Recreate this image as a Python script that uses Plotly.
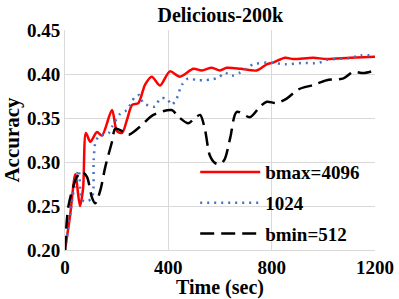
import plotly.graph_objects as go

# bmax=4096 (red)
red_t = [0, 20, 40, 58, 70, 81, 98, 124, 143, 182, 201, 221, 240, 260, 284, 310, 336, 368, 406, 445,
         497, 529, 568, 600, 626, 680, 742, 781, 806, 852, 884, 961, 1013, 1103, 1200]
red_v = [0.200, 0.240, 0.286, 0.250, 0.270, 0.333, 0.323, 0.334, 0.330, 0.359, 0.335, 0.333, 0.348, 0.365,
         0.367, 0.388, 0.397, 0.387, 0.403, 0.397, 0.406, 0.404, 0.407, 0.404, 0.407, 0.406, 0.404, 0.411,
         0.413, 0.4185, 0.417, 0.4185, 0.417, 0.4185, 0.4197]

# 1024 (blue dotted)
blue_t = [0, 20, 34, 53, 66, 85, 105, 111, 117, 130, 150, 169, 182, 214, 239, 271, 288, 303, 348, 368,
          394, 413, 432, 452, 477, 510, 535, 568, 594, 619, 645, 677, 729, 787, 852, 916, 981, 1013, 1103,
          1142, 1200]
blue_v = [0.200, 0.240, 0.268, 0.291, 0.257, 0.255, 0.260, 0.302, 0.321, 0.329, 0.331, 0.333, 0.340, 0.355,
          0.359, 0.374, 0.376, 0.367, 0.363, 0.372, 0.372, 0.365, 0.372, 0.3875, 0.395, 0.393, 0.393, 0.394,
          0.396, 0.4015, 0.398, 0.4015, 0.411, 0.413, 0.411, 0.4125, 0.4125, 0.416, 0.418, 0.421, 0.421]

# bmin=512 (black dashed)
black_t = [0, 14, 46, 66, 85, 105, 117, 137, 156, 182, 195, 227, 247, 290, 342, 413, 439, 477, 503, 523,
           542, 560, 580, 600, 618, 640, 665, 716, 755, 781, 819, 858, 903, 961, 1013, 1078, 1116, 1155, 1200]
black_v = [0.200, 0.251, 0.283, 0.289, 0.283, 0.259, 0.253, 0.268, 0.2945, 0.323, 0.338, 0.334, 0.331,
           0.340, 0.3535, 0.359, 0.3515, 0.344, 0.350, 0.3535, 0.3365, 0.308, 0.299, 0.2975, 0.303, 0.328,
           0.357, 0.351, 0.363, 0.3685, 0.367, 0.372, 0.3825, 0.3875, 0.393, 0.395, 0.4025, 0.401, 0.404]

names = ["bmax=4096", "1024", "bmin=512"]
x_ticks = [0, 400, 800, 1200]
y_ticks = [0.20, 0.25, 0.30, 0.35, 0.40, 0.45]

FONT = "Liberation Serif"

fig = go.Figure()
fig.add_trace(go.Scatter(x=red_t, y=red_v, name=names[0], mode="lines", legendgroup="a",
                         line=dict(color="#ff0000", width=2.5, shape="spline", smoothing=0.8)))
fig.add_trace(go.Scatter(x=blue_t, y=blue_v, name=names[1], mode="lines", legendgroup="b",
                         line=dict(color="#4472c4", width=2.5, shape="spline", smoothing=0.8, dash="2px,5px")))
fig.add_trace(go.Scatter(x=black_t, y=black_v, name=names[2], mode="lines", legendgroup="c",
                         line=dict(color="#000000", width=2.5, shape="spline", smoothing=0.8, dash="14px,7px")))

fig.update_layout(
    width=399, height=299,
    margin=dict(l=65, r=24, t=30, b=49, autoexpand=False),
    paper_bgcolor="white", plot_bgcolor="white",
    font=dict(family=FONT, size=19, color="black", weight="bold"),
    title=dict(text="Delicious-200k", x=0.552, xanchor="center", y=0.95, yanchor="middle",
               font=dict(family=FONT, size=20, weight="bold")),
    legend=dict(x=0.42, xanchor="left", y=0.44, yanchor="top", bgcolor="rgba(0,0,0,0)",
                font=dict(family=FONT, size=19, weight="bold"), itemwidth=60,
                traceorder="grouped", tracegroupgap=3),
    showlegend=True,
)
fig.update_xaxes(range=[0, 1200], tickvals=x_ticks, showgrid=True, gridcolor="#d9d9d9", gridwidth=1,
                 showline=True, linecolor="#d9d9d9", linewidth=1, zeroline=False, ticks="", automargin=False,
                 title=dict(text="Time (sec)", standoff=0, font=dict(family=FONT, size=20, weight="bold")),
                 tickfont=dict(family=FONT, size=19, weight="bold"))
fig.update_yaxes(range=[0.20, 0.45], tickvals=y_ticks, tickformat=".2f", showgrid=True, gridcolor="#d9d9d9",
                 gridwidth=1, showline=True, linecolor="#d9d9d9", linewidth=1, zeroline=False, ticks="",
                 automargin=False,
                 title=dict(text="Accuracy", standoff=2, font=dict(family=FONT, size=21, weight="bold")),
                 tickfont=dict(family=FONT, size=19, weight="bold"))

fig.write_html("out.html", config={"displayModeBar": False},
               post_script="document.body.style.margin='0';")
